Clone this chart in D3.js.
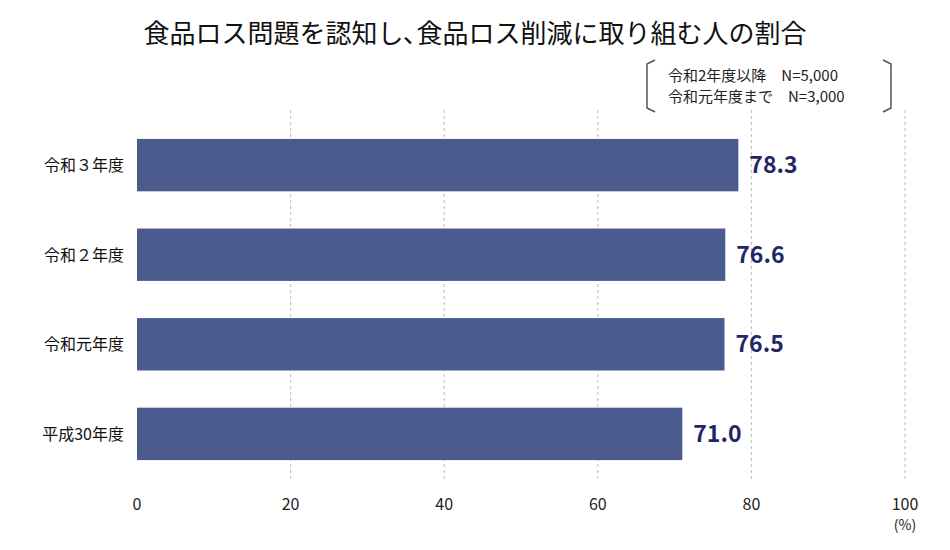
<!DOCTYPE html>
<html><head><meta charset="utf-8">
<script src="https://cdn.jsdelivr.net/npm/d3@7"></script>
<style>body{margin:0;background:#fff}</style></head>
<body><svg id="c" width="950" height="550"></svg>
<script>
const categories = ["令和３年度","令和２年度","令和元年度","平成30年度"];
const values = [78.3, 76.6, 76.5, 71.0];
const ticks = [0,20,40,60,80,100];
const title = "食品ロス問題を認知し､食品ロス削減に取り組む人の割合";
const noteLines = ["令和2年度以降　N=5,000","令和元年度まで　N=3,000"];

const svg = d3.select("#c");
const font = "'Noto Sans CJK JP','Noto Sans',sans-serif";
const x = d3.scaleLinear().domain([0,100]).range([137,905]);
const y = d3.scaleBand().domain(categories).range([121,478]).paddingInner(0.415).paddingOuter(0.2);

svg.append("text").attr("x",475).attr("y",43).attr("text-anchor","middle")
  .attr("font-family",font).attr("font-size",26).attr("fill","#111").text(title);

// note bracket
const nb = svg.append("g");
nb.append("path").attr("d","M655,60 L647,64 L647,108 L655,112").attr("fill","none").attr("stroke","#555").attr("stroke-width",1.5);
nb.append("path").attr("d","M883,60 L891,64 L891,108 L883,112").attr("fill","none").attr("stroke","#555").attr("stroke-width",1.5);
noteLines.forEach((t,i)=>nb.append("text").attr("x",668).attr("y",81+i*21)
  .attr("font-family",font).attr("font-size",15).attr("fill","#222").text(t));

// grid
svg.append("g").selectAll("line").data(ticks.slice(1)).join("line")
  .attr("x1",d=>x(d)).attr("x2",d=>x(d)).attr("y1",110).attr("y2",482)
  .attr("stroke","#bbb").attr("stroke-dasharray","3,3");

// axis labels
svg.append("g").selectAll("text").data(ticks).join("text")
  .attr("x",d=>x(d)).attr("y",510).attr("text-anchor","middle")
  .attr("font-family",font).attr("font-size",16).attr("fill","#222").text(d=>d);
svg.append("text").attr("x",905).attr("y",530).attr("text-anchor","middle")
  .attr("font-family",font).attr("font-size",14).attr("fill","#222").text("(%)");

// bars
svg.append("g").selectAll("rect").data(values).join("rect")
  .attr("x",x(0)).attr("y",(d,i)=>y(categories[i])).attr("width",d=>x(d)-x(0))
  .attr("height",y.bandwidth()).attr("fill","#4b5b8e");
svg.append("g").selectAll("text").data(values).join("text")
  .attr("x",d=>x(d)+11).attr("y",(d,i)=>y(categories[i])+y.bandwidth()/2+8)
  .attr("font-family",font).attr("font-weight","bold").attr("font-size",23).attr("fill","#1f2766")
  .text(d=>d.toFixed(1));

// category labels
svg.append("g").selectAll("text").data(categories).join("text")
  .attr("x",124).attr("y",d=>y(d)+y.bandwidth()/2+6).attr("text-anchor","end")
  .attr("font-family",font).attr("font-size",16).attr("fill","#111").text(d=>d);
</script></body></html>
